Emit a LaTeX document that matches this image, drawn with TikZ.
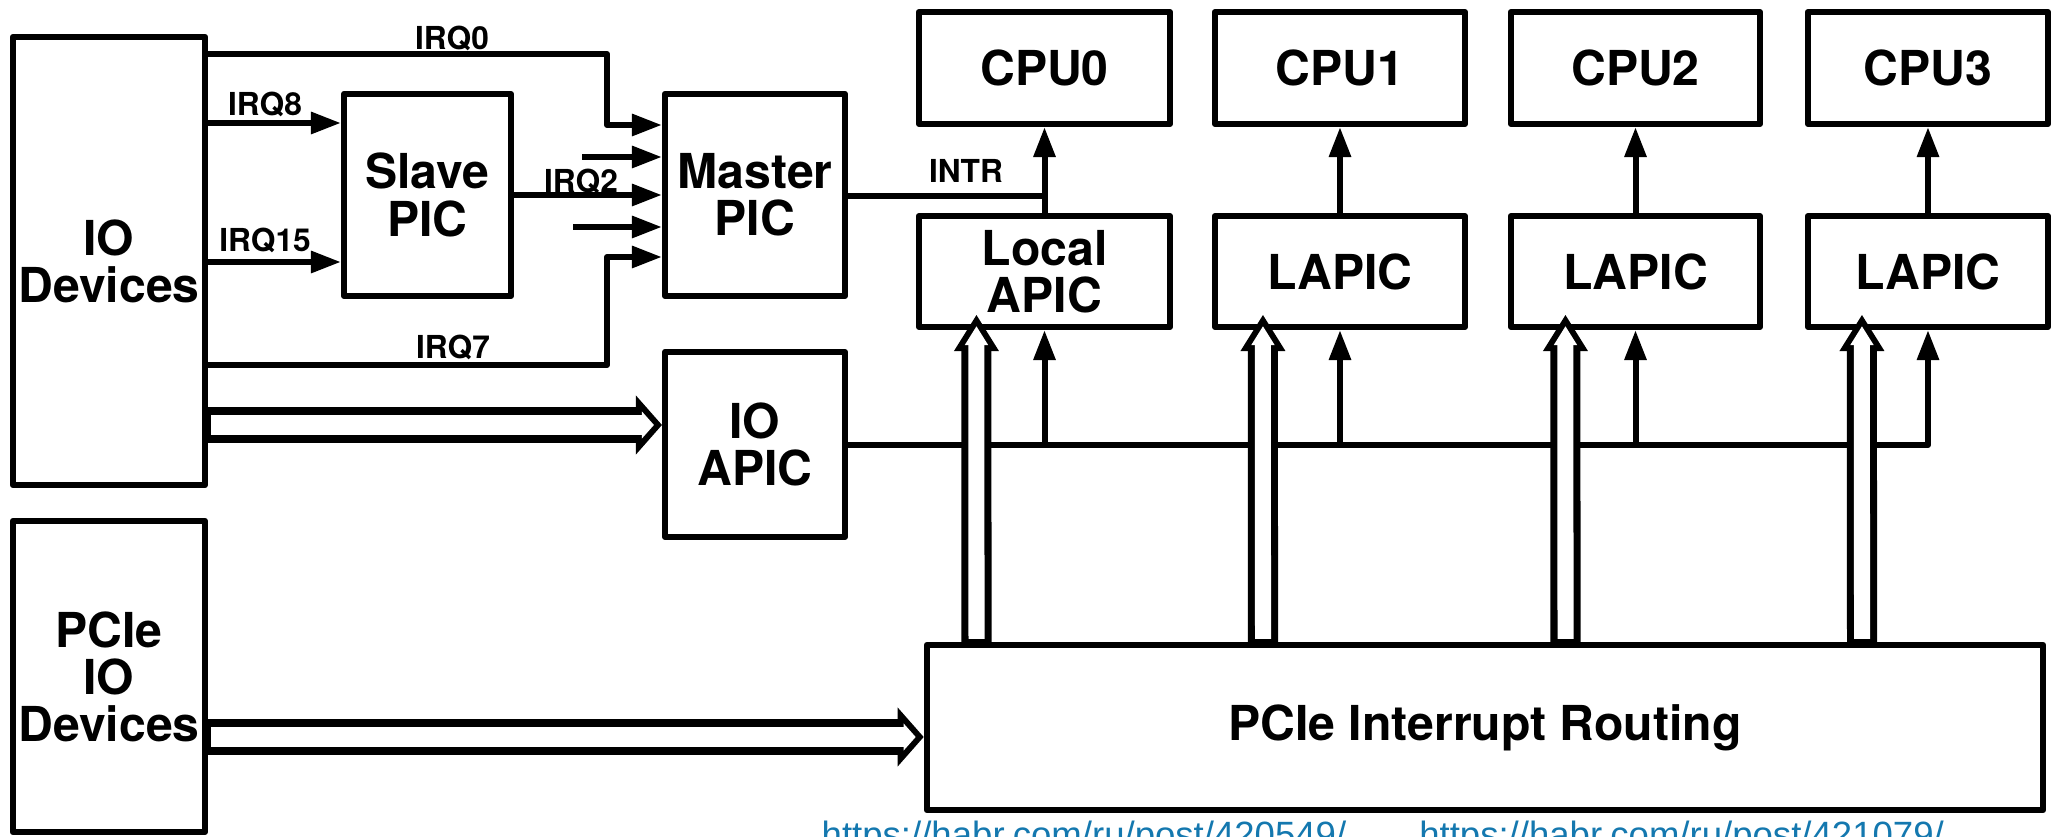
\documentclass[tikz,border=0pt]{standalone}
\usepackage{fontspec}
\setmainfont{TeX Gyre Heros}
\newfontfamily\urlfont{Liberation Sans}
\usepackage{xcolor}
\usepackage{tikz}
\usetikzlibrary{arrows.meta}
\definecolor{linkblue}{RGB}{20,120,175}

\begin{document}
\begin{tikzpicture}[
    x=0.01cm, y=-0.01cm,
    font=\fontsize{13.7}{13.4}\selectfont\bfseries,
    box/.style={draw, line width=0.06cm, line join=round, align=center, inner sep=0pt},
    lbl/.style={font=\fontsize{9}{10}\selectfont\bfseries, inner sep=0pt},
    wire/.style={line width=0.06cm, line join=round},
    arr/.style={wire, -{Triangle[length=0.3cm, width=0.21cm]}},
    dblh/.style={line width=0.36cm, -{Triangle[length=0.26cm, width=0.59cm, line width=0pt]},
                 postaction={draw=white, line width=0.20cm, shorten <=0.03cm, shorten >=0.08cm,
                             -{Triangle[length=0.12cm, width=0.27cm, line width=0pt]}}},
    dblv/.style={line width=0.30cm, -{Triangle[length=0.36cm, width=0.45cm, line width=0pt]},
                 postaction={draw=white, line width=0.16cm, shorten <=0.03cm, shorten >=0.113cm,
                             -{Triangle[length=0.187cm, width=0.234cm, line width=0pt]}}},
  ]
  \useasboundingbox (0,0) rectangle (2053,837);
  \clip (0,0) rectangle (2053,837);

  % sources and PICs
  \node[box, minimum width=1.92cm, minimum height=4.48cm] (iodev) at (109,261) {IO\\Devices};
  \node[box, minimum width=1.92cm, minimum height=3.11cm] (pciedev) at (109,676.5) {PCIe\\IO\\Devices};
  \node[box, minimum width=1.67cm, minimum height=2.02cm] (slave) at (427.5,195) {Slave\\PIC};
  \node[box, minimum width=1.80cm, minimum height=2.02cm] (master) at (755,195) {Master\\PIC};
  \node[box, minimum width=1.80cm, minimum height=1.85cm] (ioapic) at (755,444.5) {IO\\APIC};

  % CPUs and local APICs
  \node[box, minimum width=2.51cm, minimum height=1.12cm] (cpu0) at (1044.5,68) {CPU0};
  \node[box, minimum width=2.50cm, minimum height=1.12cm] (cpu1) at (1340,68) {CPU1};
  \node[box, minimum width=2.49cm, minimum height=1.12cm] (cpu2) at (1635.5,68) {CPU2};
  \node[box, minimum width=2.40cm, minimum height=1.12cm] (cpu3) at (1928,68) {CPU3};

  \node[box, minimum width=2.51cm, minimum height=1.11cm] (lapic0) at (1044.5,271.5) {Local\\APIC};
  \node[box, minimum width=2.50cm, minimum height=1.11cm] (lapic1) at (1340,271.5) {LAPIC};
  \node[box, minimum width=2.49cm, minimum height=1.11cm] (lapic2) at (1635.5,271.5) {LAPIC};
  \node[box, minimum width=2.40cm, minimum height=1.11cm] (lapic3) at (1928,271.5) {LAPIC};

  \node[box, minimum width=11.16cm, minimum height=1.65cm] (routing) at (1485,727.5) {PCIe Interrupt Routing};

  % IRQ lines
  \draw[arr] (iodev.east |- 0,54) -| (607,125) -- (master.west |- 0,125);
  \node[lbl] (irq0) at (452,38) {IRQ0};
  \draw[arr] (iodev.east |- 0,123) -- (slave.west |- 0,123);
  \node[lbl] (irq8) at (265,104) {IRQ8};
  \draw[arr] (iodev.east |- 0,262) -- (slave.west |- 0,262);
  \node[lbl] (irq15) at (265,240) {IRQ15};
  \draw[arr] (slave.east |- 0,195) -- (master.west |- 0,195);
  \node[lbl] (irq2) at (581,181) {IRQ2};
  \coordinate (in1) at (582,157);
  \coordinate (in3) at (573,227);
  \draw[arr] (in1) -- (master.west |- in1);
  \draw[arr] (in3) -- (master.west |- in3);
  \draw[arr] (iodev.east |- 0,365) -| (607,257) -- (master.west |- 0,257);
  \node[lbl] (irq7) at (453,347) {IRQ7};

  % INTR and CPU links
  \draw[wire] (master.east |- 0,196) -- (lapic0.north |- 0,196);
  \node[lbl] (intr) at (966,171) {INTR};
  \draw[arr] (lapic0.north) -- (cpu0.south);
  \draw[arr] (lapic1.north) -- (cpu1.south);
  \draw[arr] (lapic2.north) -- (cpu2.south);
  \draw[arr] (lapic3.north) -- (cpu3.south);

  % APIC bus
  \draw[arr] (ioapic.east |- 0,445) -| (lapic3.south);
  \draw[arr] (lapic0.south |- 0,445) -- (lapic0.south);
  \draw[arr] (lapic1.south |- 0,445) -- (lapic1.south);
  \draw[arr] (lapic2.south |- 0,445) -- (lapic2.south);

  % wide links
  \draw[dblh] (iodev.east |- 0,425) -- (ioapic.west |- 0,425);
  \draw[dblh] (pciedev.east |- 0,737) -- (routing.west |- 0,737);
  \draw[dblv] (976.5,0 |- routing.north) -- ([xshift=-0.68cm, yshift=0.15cm]lapic0.south);
  \draw[dblv] (1263,0 |- routing.north) -- ([xshift=-0.77cm, yshift=0.15cm]lapic1.south);
  \draw[dblv] (1565.5,0 |- routing.north) -- ([xshift=-0.70cm, yshift=0.15cm]lapic2.south);
  \draw[dblv] (1862,0 |- routing.north) -- ([xshift=-0.66cm, yshift=0.15cm]lapic3.south);

  \node[anchor=base west, inner sep=0pt, text=linkblue,
        font=\urlfont\fontsize{10.4}{12}\selectfont] (src) at (821,848)
    {https://habr.com/ru/post/420549/\hspace{0.73cm}https://habr.com/ru/post/421079/};

\end{tikzpicture}
\end{document}
